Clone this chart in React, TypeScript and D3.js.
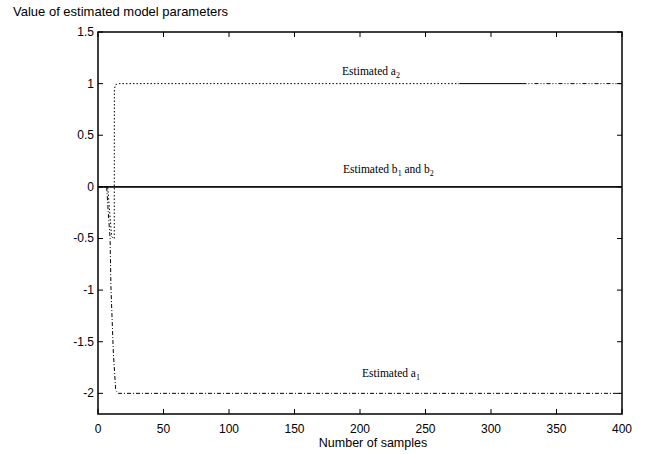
import React from "react";
import * as d3 from "d3";

const xTicks = [0, 50, 100, 150, 200, 250, 300, 350, 400];
const yTicks = [1.5, 1, 0.5, 0, -0.5, -1, -1.5, -2];

const samplesA1 = [0, 6.6, 7.9, 9.2, 9.9, 11.7, 13.5, 15.5, 400];
const valuesA1 = [0, 0, -0.26, -0.49, -0.98, -1.6, -1.97, -2, -2];

const samplesA2 = [0, 7.4, 10.4, 11.7, 12.4, 12.5, 13.5, 15.5, 400];
const valuesA2 = [0, 0, -0.48, -0.5, -0.5, 0.95, 0.99, 1, 1];

const samplesB = [0, 400];
const valuesB1 = [0, 0];
const valuesB2 = [0, 0];

const W = 653;
const H = 454;
const L = 98, R = 622, T = 32, B = 414;

export default function App() {
  const x = d3.scaleLinear().domain([0, 400]).range([L, R]);
  const y = d3.scaleLinear().domain([-2.2, 1.5]).range([B, T]);
  const line = d3.line<[number, number]>().x(d => x(d[0])).y(d => y(d[1]));
  const zip = (a: number[], b: number[]) => a.map((v, i) => [v, b[i]] as [number, number]);

  const a1 = line(zip(samplesA1, valuesA1)) || "";
  const a2 = line(zip(samplesA2, valuesA2)) || "";
  const b1 = line(zip(samplesB, valuesB1)) || "";
  const b2 = line(zip(samplesB, valuesB2)) || "";
  const fmt = (v: number) => String(v);
  const sansFont = "'Liberation Sans', Arial, sans-serif";
  const serifFont = "'Liberation Serif', 'Times New Roman', serif";

  return (
    <svg width={W} height={H} style={{ position: "absolute", left: 0, top: 0, background: "#fff" }}>
      <defs>
        <clipPath id="c1"><rect x={0} y={0} width={x(276)} height={H} /></clipPath>
        <clipPath id="c2"><rect x={x(276)} y={0} width={x(326) - x(276)} height={H} /></clipPath>
        <clipPath id="c3"><rect x={x(326)} y={0} width={W - x(326)} height={H} /></clipPath>
      </defs>
      <rect x={0} y={0} width={W} height={H} fill="#fff" />
      <path d={b1} fill="none" stroke="#000" strokeWidth={1.3} />
      <path d={b2} fill="none" stroke="#000" strokeWidth={1.3} />
      <path d={a1} fill="none" stroke="#000" strokeWidth={1} strokeDasharray="4,2,1,2" />
      <path d={a2} fill="none" stroke="#000" strokeWidth={1} strokeDasharray="1.5,2" clipPath="url(#c1)" />
      <path d={a2} fill="none" stroke="#000" strokeWidth={1} clipPath="url(#c2)" />
      <path d={a2} fill="none" stroke="#000" strokeWidth={1} strokeDasharray="4,2,1,2,1,2" clipPath="url(#c3)" />
      <rect x={L} y={T} width={R - L} height={B - T} fill="none" stroke="#000" strokeWidth={1.5} />
      {xTicks.map(t => (
        <g key={"x" + t}>
          <line x1={x(t)} x2={x(t)} y1={B} y2={B - 5} stroke="#000" />
          <line x1={x(t)} x2={x(t)} y1={T} y2={T + 5} stroke="#000" />
          <text x={x(t)} y={433} textAnchor="middle" fontFamily={sansFont} fontSize={12}>{fmt(t)}</text>
        </g>
      ))}
      {yTicks.map(t => (
        <g key={"y" + t}>
          <line x1={L} x2={L + 5} y1={y(t)} y2={y(t)} stroke="#000" />
          <line x1={R} x2={R - 5} y1={y(t)} y2={y(t)} stroke="#000" />
          <text x={94} y={y(t) + 4} textAnchor="end" fontFamily={sansFont} fontSize={12}>{fmt(t)}</text>
        </g>
      ))}
      <text x={13} y={16} fontFamily={sansFont} fontSize={13}>Value of estimated model parameters</text>
      <text x={373} y={447} textAnchor="middle" fontFamily={sansFont} fontSize={12.5}>Number of samples</text>
      <text x={342} y={75} fontFamily={serifFont} fontSize={11.5}>
        Estimated a<tspan fontSize={8} dy={3}>2</tspan>
      </text>
      <text x={343} y={173} fontFamily={serifFont} fontSize={11.5}>
        Estimated b<tspan fontSize={8} dy={3}>1</tspan><tspan dy={-3}> and b</tspan><tspan fontSize={8} dy={3}>2</tspan>
      </text>
      <text x={362} y={377} fontFamily={serifFont} fontSize={11.5}>
        Estimated a<tspan fontSize={8} dy={3}>1</tspan>
      </text>
    </svg>
  );
}
